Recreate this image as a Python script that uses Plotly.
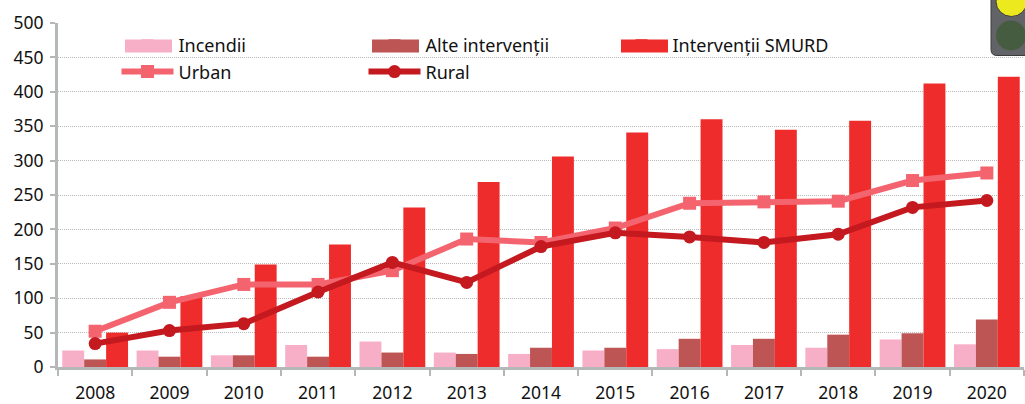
import plotly.graph_objects as go

years = ["2008","2009","2010","2011","2012","2013","2014","2015","2016","2017","2018","2019","2020"]
incendii = [24,24,17,32,37,21,19,24,26,32,28,40,33]
alte = [11,15,17,15,21,19,28,28,41,41,47,49,69]
smurd = [50,103,149,178,232,269,306,341,360,345,358,412,422]
urban = [52,94,120,120,140,186,181,202,238,240,241,271,282]
rural = [34,53,63,109,152,123,175,195,189,181,193,232,242]

FONT = "Noto Sans"
AXIS = "#b4b8b8"
PINK, BROWN, RED = "#f7afc8", "#bd5555", "#ee2c2c"
fig = go.Figure()
fig.add_bar(x=years, y=incendii, name="Incendii", marker_color=PINK, marker_line_width=0)
fig.add_bar(x=years, y=alte, name="Alte intervenții", marker_color=BROWN, marker_line_width=0)
fig.add_bar(x=years, y=smurd, name="Intervenții SMURD", marker_color=RED, marker_line_width=0)
fig.add_scatter(x=years, y=urban, name="Urban", mode="lines+markers",
                line=dict(color="#f4646f", width=6), marker=dict(symbol="square", size=13, color="#f4646f"))
fig.add_scatter(x=years, y=rural, name="Rural", mode="lines+markers",
                line=dict(color="#c3191f", width=6), marker=dict(symbol="circle", size=13, color="#c3191f"))

W, H, L, R, T, B = 1025, 404, 58, 1, 22.5, 36.5

def X(px): return px - L
def Y(py): return T - py

def pxshape(**kw):
    return dict(xref="paper", yref="paper", xsizemode="pixel", ysizemode="pixel",
                xanchor=0, yanchor=1, **kw)

def rounded(x0, y0, x1, y1, r):
    return (f"M{X(x0)},{Y(y0)} L{X(x1)},{Y(y0)} L{X(x1)},{Y(y1)} L{X(x0+r)},{Y(y1)} "
            f"Q{X(x0)},{Y(y1)} {X(x0)},{Y(y1-r)} Z")

shapes = [
    pxshape(type="path", path=rounded(991, -6, 1032, 55, 6),
            fillcolor="#626366", line=dict(color="#3c3c3c", width=1)),
    pxshape(type="circle", x0=X(996), x1=X(1027), y0=Y(-14), y1=Y(16),
            fillcolor="#ecea1e", line=dict(color="#3c3c3c", width=1)),
    pxshape(type="circle", x0=X(996), x1=X(1026), y0=Y(50), y1=Y(20),
            fillcolor="#465c40", line=dict(width=0)),
]
for x0, col in [(125, PINK), (372, BROWN), (621, RED)]:
    shapes.append(pxshape(type="rect", x0=X(x0), x1=X(x0 + 47), y0=Y(52), y1=Y(39),
                          fillcolor=col, line=dict(width=0)))

fig.update_layout(
    width=W, height=H, margin=dict(l=L, r=R, t=T, b=B, pad=0),
    paper_bgcolor="white", plot_bgcolor="white",
    barmode="group", bargap=0.115, bargroupgap=0,
    font=dict(family=FONT, size=17.5, color="#111111"),
    shapes=shapes,
    legend=dict(orientation="h", x=(116.5 - L) / (W - L - R), y=1 - 4 / (H - T - B),
                xanchor="left", yanchor="top",
                entrywidth=180, entrywidthmode="pixels",
                itemwidth=52, bgcolor="rgba(0,0,0,0)", tracegroupgap=0,
                font=dict(family=FONT, size=18), traceorder="normal"),
    xaxis=dict(type="category", categoryorder="array", categoryarray=years, range=[-0.5, 12.5],
               showgrid=False, showline=True, linecolor=AXIS, linewidth=3,
               ticks="outside", ticklen=6, tickcolor=AXIS, tickwidth=2, tickson="boundaries",
               ticklabelstandoff=8, tickfont=dict(size=17.5)),
    yaxis=dict(range=[0, 500], dtick=50, showgrid=True, gridcolor="#b8b8b8", griddash="1px,1px",
               gridwidth=1, showline=True, linecolor=AXIS, linewidth=3, zeroline=False,
               ticks="outside", ticklen=5, tickcolor=AXIS, tickwidth=2, ticklabelstandoff=3,
               tickfont=dict(size=17.5)),
)
fig.write_html("out.html", post_script="document.body.style.margin='0';",
               config={"displayModeBar": False})
